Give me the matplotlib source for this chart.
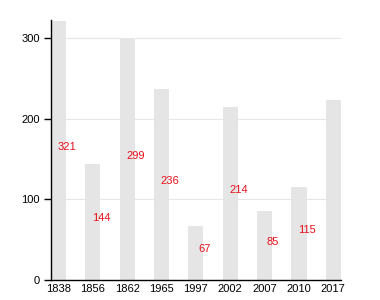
import matplotlib
matplotlib.use('Agg')
import matplotlib.pyplot as plt

# data
years = ['1838', '1856', '1862', '1965', '1997', '2002', '2007', '2010', '2017']
values = [321, 144, 299, 236, 67, 214, 85, 115, 223]

plt.rcParams['font.family'] = ['Liberation Sans', 'DejaVu Sans']

fig = plt.figure(figsize=(3.8, 3.0), dpi=100)
ax = fig.add_axes([0.134, 0.067, 0.763, 0.866])

bar_w = 0.44
xs = list(range(len(years)))
ax.bar(xs, values, width=bar_w, color='#e5e5e5', zorder=2)

# value labels, at half height beside each bar
for x, v in zip(xs, values):
    ax.annotate(str(v), (x + 0.24, v / 2), xytext=(0, 2.5),
                textcoords='offset points', color='#e8101a', fontsize=8,
                ha='center', va='center', zorder=3)

ax.set_xlim(-bar_w / 2, len(years) - 1 + bar_w / 2)
ax.set_ylim(0, 322)
ax.set_xticks(xs)
ax.set_xticklabels(years)
ax.set_yticks([0, 100, 200, 300])

ax.grid(axis='y', color='#e6e6e6', linewidth=0.8, zorder=0)
ax.set_axisbelow(True)
for s in ['top', 'right']:
    ax.spines[s].set_visible(False)
ax.spines['left'].set_linewidth(1.0)
ax.spines['bottom'].set_linewidth(1.0)
ax.tick_params(axis='x', length=0, pad=3, labelsize=8)
ax.tick_params(axis='y', length=5, width=1, pad=3, labelsize=8)

fig.savefig('out.png', dpi=100)
